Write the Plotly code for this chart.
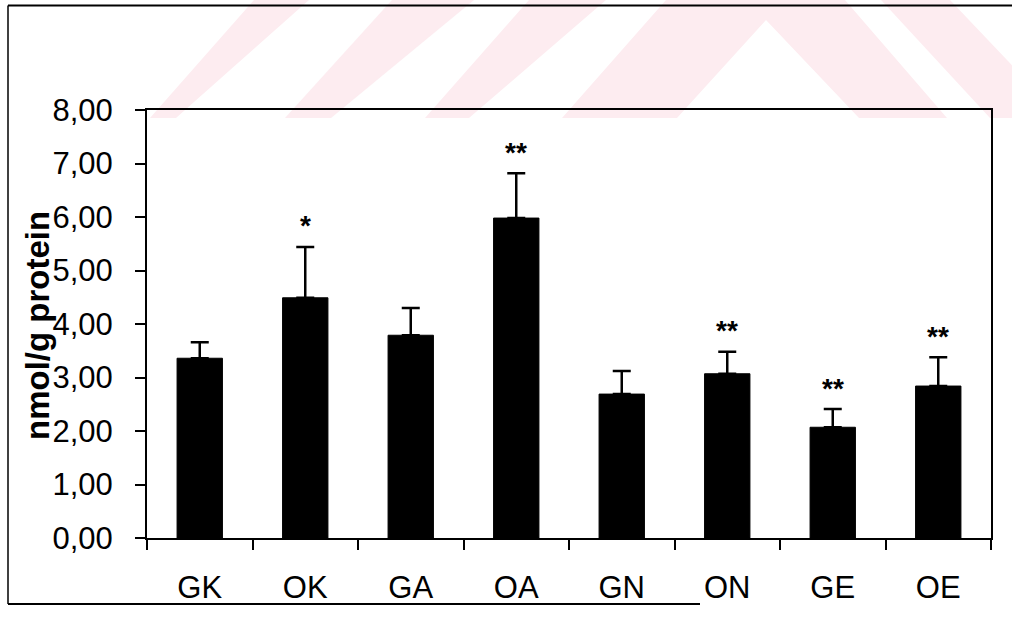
import plotly.graph_objects as go

# ---- data ----
groups = ["GK", "OK", "GA", "OA", "GN", "ON", "GE", "OE"]
means = [3.36, 4.49, 3.79, 5.98, 2.69, 3.07, 2.07, 2.84]
sem = [0.30, 0.95, 0.51, 0.84, 0.43, 0.41, 0.34, 0.54]
significance = ["", "*", "", "**", "", "**", "**", "**"]
y_ticks = [0, 1, 2, 3, 4, 5, 6, 7, 8]

# ---- canvas geometry (pixels) ----
W, H = 1012, 619
L, R, T, B = 147, 21, 110, 81
PW, PH = W - L - R, H - T - B


def px(x):
    return (x - L) / PW


def py(y):
    return (H - B - y) / PH


def poly(points):
    return "M " + " L ".join(f"{px(x):.5f},{py(y):.5f}" for x, y in points) + " Z"


FONT = "Liberation Sans, Arial, sans-serif"
PINK = "rgb(253,236,240)"

fig = go.Figure()

fig.add_trace(go.Bar(
    x=groups,
    y=means,
    marker=dict(color="black", line=dict(color="black", width=1)),
    width=0.43,
    error_y=dict(
        type="data",
        symmetric=False,
        array=sem,
        arrayminus=[0] * len(sem),
        color="black",
        thickness=2.5,
        width=9,
    ),
    hoverinfo="skip",
))

# significance marks above the error bars
for g, m, e, s in zip(groups, means, sem, significance):
    if s:
        fig.add_annotation(
            x=g, y=m + e, xref="x", yref="y",
            text=s, showarrow=False,
            font=dict(family=FONT, size=28, color="black", weight="bold"),
            xanchor="center", yanchor="middle", yshift=21,
        )

# y-axis title
fig.add_annotation(
    x=px(37), y=py(325), xref="paper", yref="paper",
    text="<b>nmol/g protein</b>", textangle=-90, showarrow=False,
    font=dict(family=FONT, size=33, color="black"),
    xanchor="center", yanchor="middle",
)

shapes = []
# faint background watermark
wm = [
    [(150, 118), (176, 118), (309, 0), (254, 0)],
    [(285, 118), (331, 118), (474, 0), (392, 0)],
    [(425, 118), (469, 118), (606, 0), (529, 0)],
    [(562, 118), (666, 0), (845, 0), (947, 118), (859, 118), (766, 20), (677, 118)],
    [(881, 0), (950, 0), (1062, 118), (990, 118)],
]
for p in wm:
    shapes.append(dict(type="path", path=poly(p), xref="paper", yref="paper",
                       fillcolor=PINK, line=dict(width=0), layer="below"))

# outer frame
frame = [
    ((8, 5.5), (1012, 5.5), 2),
    ((8, 5.5), (8, 604), 1.5),
    ((8, 604), (700, 604), 2),
]
for (x0, y0), (x1, y1), w in frame:
    shapes.append(dict(type="line", xref="paper", yref="paper",
                       x0=px(x0), y0=py(y0), x1=px(x1), y1=py(y1),
                       line=dict(color="black", width=w)))

fig.update_layout(
    width=W, height=H,
    margin=dict(l=L, r=R, t=T, b=B, pad=0),
    paper_bgcolor="white",
    plot_bgcolor="rgba(0,0,0,0)",
    separators=",.",
    showlegend=False,
    bargap=0.57,
    shapes=shapes,
    font=dict(family=FONT, color="black"),
)

fig.update_xaxes(
    type="category",
    showline=True, linecolor="black", linewidth=2, mirror=True,
    ticks="outside", tickson="boundaries", ticklen=10, tickwidth=1.5, tickcolor="black",
    tickfont=dict(family=FONT, size=31, color="black"),
    ticklabelstandoff=21,
    showgrid=False, zeroline=False,
)

fig.update_yaxes(
    range=[0, 8],
    tickvals=y_ticks, tickformat=".2f",
    showline=True, linecolor="black", linewidth=2, mirror=True,
    ticks="outside", ticklen=10, tickwidth=1.5, tickcolor="black",
    tickfont=dict(family=FONT, size=31, color="black"),
    ticklabelstandoff=16,
    showgrid=False, zeroline=False,
)

fig.write_html("out.html")
